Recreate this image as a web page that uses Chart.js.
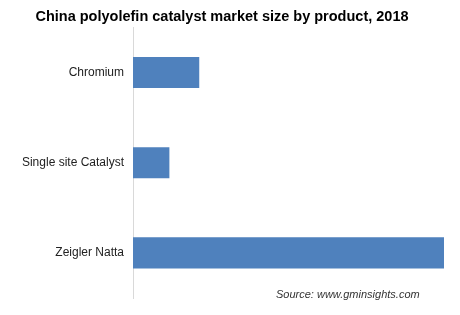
<!DOCTYPE html>
<html>
<head>
<meta charset="utf-8">
<script src="https://cdn.jsdelivr.net/npm/chart.js@4"></script>
<style>
  html, body { margin: 0; padding: 0; background: #fff; }
  .chart-wrap { width: 460px; height: 315px; }
</style>
</head>
<body>
<div class="chart-wrap"><canvas id="catalystChart"></canvas></div>
<script>
const categories = ["Chromium", "Single site Catalyst", "Zeigler Natta"];
const marketSize = [21.3, 11.7, 100];
const sourceNote = "Source: www.gminsights.com";

// Source note in the bottom right corner
const sourcePlugin = {
  id: "sourceNote",
  afterDraw(chart) {
    const ctx = chart.ctx;
    ctx.save();
    ctx.font = "italic 11px 'Liberation Sans', Arial, sans-serif";
    ctx.fillStyle = "#333";
    ctx.textAlign = "left";
    ctx.textBaseline = "middle";
    ctx.fillText(sourceNote, 276, 295);
    ctx.restore();
  },
};

const ctx = document.getElementById("catalystChart").getContext("2d");

new Chart(ctx, {
  type: "bar",
  data: {
    labels: categories,
    datasets: [
      {
        label: "Market size",
        data: marketSize,
        backgroundColor: "#4f81bd",
        barPercentage: 0.69,
        categoryPercentage: 0.5,
      },
    ],
  },
  options: {
    indexAxis: "y",
    responsive: true,
    maintainAspectRatio: false,
    animation: false,
    layout: { padding: { left: 0, right: 16, top: 0, bottom: 17 } },
    plugins: {
      legend: { display: false },
      tooltip: { enabled: false },
      title: {
        display: true,
        text: "China polyolefin catalyst market size by product, 2018",
        color: "#000",
        font: { family: "'Liberation Sans', Arial, sans-serif", size: 14.5, weight: "bold" },
        padding: { top: 8, bottom: 2 },
      },
    },
    scales: {
      x: {
        display: false,
        min: 0,
        max: 100,
      },
      y: {
        afterFit: function (scale) {
          scale.width = 133;
        },
        grid: { display: false, drawTicks: false },
        border: { display: true, color: "#d9d9d9", width: 1 },
        ticks: {
          color: "#222",
          padding: 9,
          font: { family: "'Liberation Sans', Arial, sans-serif", size: 12 },
        },
      },
    },
  },
  plugins: [sourcePlugin],
});
</script>
</body>
</html>
